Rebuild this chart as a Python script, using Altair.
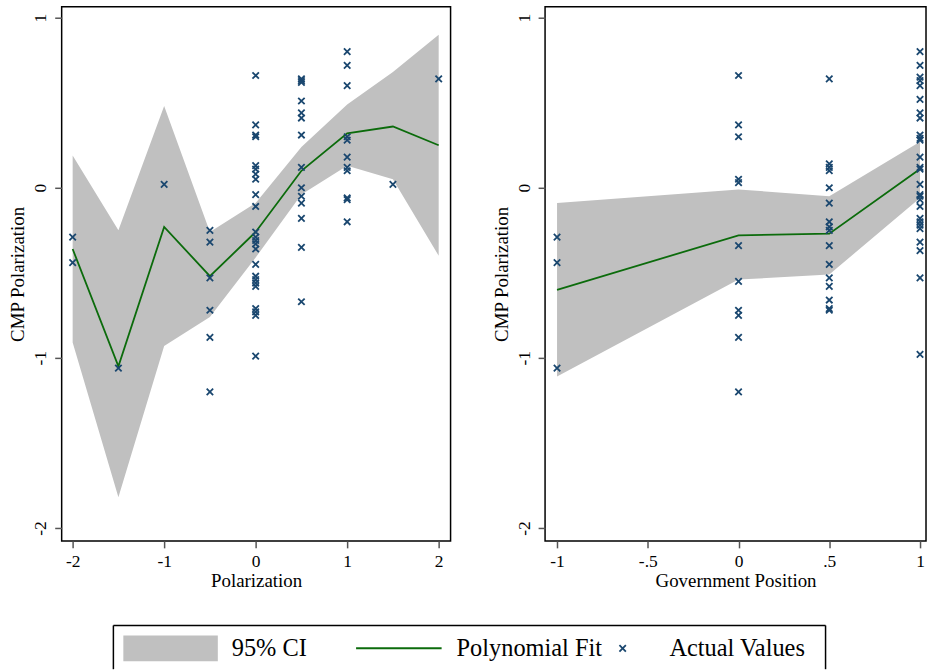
import altair as alt
import pandas as pd

# ---------------- data ----------------
# Left panel (x = Polarization)
left_fit_x = [-2, -1.5, -1, -0.5, 0, 0.5, 1, 1.5, 2]
left_fit_y = [-0.36, -1.05, -0.23, -0.52, -0.26, 0.10, 0.32, 0.36, 0.25]
left_ci_low = [-0.91, -1.82, -0.93, -0.76, -0.41, -0.04, 0.13, 0.05, -0.40]
left_ci_high = [0.19, -0.25, 0.48, -0.26, -0.09, 0.24, 0.49, 0.68, 0.90]
left_obs_x = [-2, -1.5, -1, -0.5, 0, 0.5, 1, 1.5, 2]
left_obs_y = [
    [-0.29, -0.44],
    [-1.06],
    [0.02],
    [-0.25, -0.32, -0.53, -0.72, -0.88, -1.20],
    [0.66, 0.37, 0.31, 0.30, 0.13, 0.11, 0.08, 0.05, -0.04, -0.11, -0.26, -0.29,
     -0.31, -0.33, -0.36, -0.45, -0.52, -0.54, -0.56, -0.58, -0.71, -0.73, -0.75, -0.99],
    [0.64, 0.63, 0.62, 0.51, 0.44, 0.41, 0.31, 0.12, 0.00, -0.05, -0.09, -0.18, -0.35, -0.67],
    [0.80, 0.72, 0.60, 0.30, 0.28, 0.18, 0.12, 0.10, -0.06, -0.07, -0.20],
    [0.02],
    [0.64],
]
left_ticks = [-2, -1, 0, 1, 2]
left_tick_labels = ["-2", "-1", "0", "1", "2"]

# Right panel (x = Government Position)
right_fit_x = [-1, 0, 0.5, 1]
right_fit_y = [-0.60, -0.28, -0.27, 0.11]
right_ci_low = [-1.11, -0.54, -0.51, -0.06]
right_ci_high = [-0.09, -0.01, -0.05, 0.27]
right_obs_x = [-1, 0, 0.5, 1]
right_obs_y = [
    [-0.29, -0.44, -1.06],
    [0.66, 0.37, 0.30, 0.05, 0.03, -0.34, -0.55, -0.72, -0.75, -0.88, -1.20],
    [0.64, 0.14, 0.12, 0.10, 0.00, -0.09, -0.20, -0.23, -0.25, -0.34, -0.45, -0.53,
     -0.58, -0.66, -0.71, -0.72],
    [0.80, 0.72, 0.65, 0.63, 0.60, 0.52, 0.44, 0.41, 0.31, 0.29, 0.28, 0.18, 0.12, 0.11,
     0.02, -0.04, -0.05, -0.07, -0.11, -0.18, -0.20, -0.22, -0.24, -0.32, -0.37, -0.53, -0.98],
]
right_ticks = [-1, -0.5, 0, 0.5, 1]
right_tick_labels = ["-1", "-.5", "0", ".5", "1"]

y_ticks = [-2, -1, 0, 1]
y_tick_labels = ["-2", "-1", "0", "1"]

legend_labels = ["95% CI", "Polynomial Fit", "Actual Values"]

# ---------------- styling ----------------
FONT = "Liberation Serif"
CI_COLOR = "#c0c0c0"
FIT_COLOR = "#0b6b0b"
PT_COLOR = "#1a476f"
XPATH = "M-1,-1L1,1M-1,1L1,-1"
PT_SIZE = 42
LEFT_W = 391
RIGHT_W = 383
PANEL_H = 537
LABEL_FS = 17.5
TITLE_FS = 19
LEGEND_FS = 24.5


def label_expr(values, labels):
    expr = "''"
    for v, l in zip(reversed(values), reversed(labels)):
        expr = f"datum.value == {v} ? '{l}' : ({expr})"
    return expr


def make_panel(fx, fy, lo, hi, ox, oy, xdom, xticks, xlabels, xtitle, width):
    fit_df = pd.DataFrame({"x": fx, "fit": fy, "lo": lo, "hi": hi})
    rows = [(x, y) for x, ys in zip(ox, oy) for y in ys]
    obs_df = pd.DataFrame(rows, columns=["x", "y"])
    xs = alt.Scale(domain=xdom, nice=False, zero=False)
    ys = alt.Scale(domain=[-2.076, 1.064], nice=False, zero=False)
    xax = alt.Axis(values=xticks, title=xtitle, labelExpr=label_expr(xticks, xlabels),
                   labelAngle=0, labelFont=FONT, labelFontSize=LABEL_FS,
                   titleFont=FONT, titleFontSize=TITLE_FS, titleFontWeight="normal",
                   labelPadding=5, titlePadding=1, labelColor="black", titleColor="black")
    yax = alt.Axis(values=y_ticks, title="CMP Polarization",
                   labelExpr=label_expr(y_ticks, y_tick_labels),
                   labelAngle=270, labelAlign="center", labelBaseline="alphabetic",
                   labelPadding=9, labelFont=FONT, labelFontSize=LABEL_FS,
                   titleFont=FONT, titleFontSize=TITLE_FS, titleFontWeight="normal",
                   titlePadding=2, minExtent=32, maxExtent=32,
                   labelColor="black", titleColor="black")
    band = alt.Chart(fit_df).mark_area(color=CI_COLOR, opacity=1).encode(
        x=alt.X("x:Q", scale=xs, axis=xax),
        y=alt.Y("lo:Q", scale=ys, axis=yax),
        y2="hi:Q",
    )
    line = alt.Chart(fit_df).mark_line(color=FIT_COLOR, strokeWidth=1.8).encode(
        x=alt.X("x:Q", scale=xs), y=alt.Y("fit:Q", scale=ys)
    )
    pts = alt.Chart(obs_df).mark_point(
        shape=XPATH, size=PT_SIZE, filled=False, color=PT_COLOR, strokeWidth=1.8, opacity=1
    ).encode(x=alt.X("x:Q", scale=xs), y=alt.Y("y:Q", scale=ys))
    return alt.layer(band, line, pts).properties(width=width, height=PANEL_H)


left = make_panel(left_fit_x, left_fit_y, left_ci_low, left_ci_high, left_obs_x, left_obs_y,
                  [-2.12, 2.13], left_ticks, left_tick_labels, "Polarization", LEFT_W)
right = make_panel(right_fit_x, right_fit_y, right_ci_low, right_ci_high, right_obs_x,
                   right_obs_y, [-1.066, 1.033], right_ticks, right_tick_labels,
                   "Government Position", RIGHT_W)

# ---------------- legend box (open at the bottom, which falls off the page) ----------------
LEG_W, LEG_H = 770, 44
BOX_L, BOX_R = 52, 768
one = pd.DataFrame({"k": [0]})
frame_top = alt.Chart(one).mark_rule(color="black", strokeWidth=1.5).encode(
    x=alt.value(BOX_L), x2=alt.value(BOX_R), y=alt.value(0))
frame_l = alt.Chart(one).mark_rule(color="black", strokeWidth=1.5).encode(
    x=alt.value(BOX_L), y=alt.value(0), y2=alt.value(LEG_H))
frame_r = alt.Chart(one).mark_rule(color="black", strokeWidth=1.5).encode(
    x=alt.value(BOX_R), y=alt.value(0), y2=alt.value(LEG_H))
sw = alt.Chart(one).mark_rect(color=CI_COLOR).encode(
    x=alt.value(BOX_L + 10), x2=alt.value(BOX_L + 105), y=alt.value(10), y2=alt.value(36))
ln = alt.Chart(one).mark_rule(color=FIT_COLOR, strokeWidth=2).encode(
    x=alt.value(BOX_L + 244), x2=alt.value(BOX_L + 330), y=alt.value(23))
mk = alt.Chart(one).mark_point(shape=XPATH, size=PT_SIZE, filled=False, color=PT_COLOR,
                               strokeWidth=1.8, opacity=1).encode(
    x=alt.value(BOX_L + 512), y=alt.value(23))
txt_df = pd.DataFrame({"label": legend_labels, "pos": [BOX_L + 119, BOX_L + 345, BOX_L + 559]})
tx = alt.Chart(txt_df).mark_text(align="left", baseline="middle", fontSize=LEGEND_FS,
                                 font=FONT, color="black").encode(
    x=alt.X("pos:Q", scale=alt.Scale(domain=[0, LEG_W], nice=False, zero=False), axis=None),
    y=alt.value(24),
    text="label:N",
)
legend = alt.layer(frame_top, frame_l, frame_r, sw, ln, mk, tx).properties(
    width=LEG_W, height=LEG_H, view=alt.ViewBackground(strokeOpacity=0)
)

top = alt.hconcat(left, right, spacing=40)
chart = alt.vconcat(top, legend, spacing=33).properties(
    padding={"left": 8, "top": 4, "right": 0, "bottom": 0}
).configure(font=FONT).configure_view(
    stroke="black", strokeWidth=1.5
).configure_axis(
    grid=False, domain=False, tickColor="#555555", tickWidth=1.5, tickSize=7,
)

chart.save("out.html", embed_options={"renderer": "svg", "actions": False})
